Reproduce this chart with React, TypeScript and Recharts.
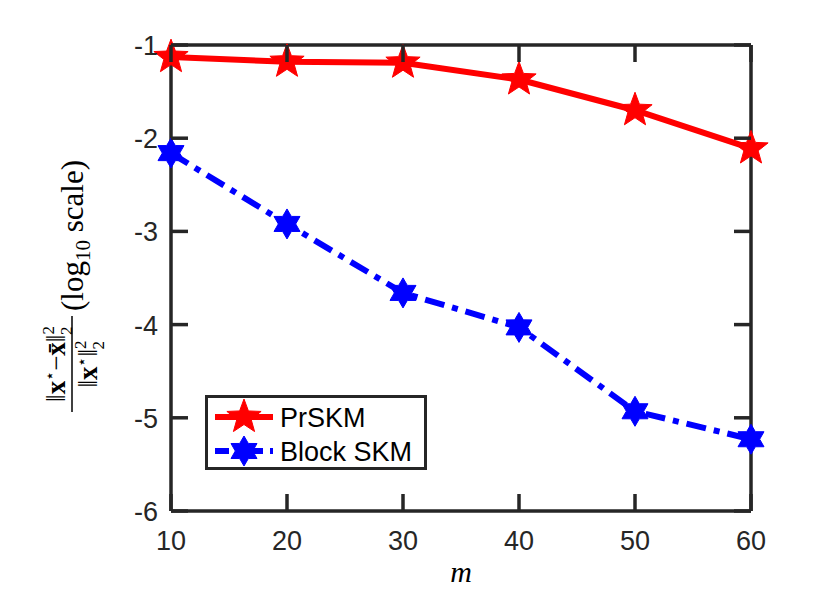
import React from 'react'
import { LineChart, Line, XAxis, YAxis } from 'recharts'

// values (log10 of relative error)
const mValues = [10, 20, 30, 40, 50, 60]
const prSkm = [-1.13, -1.18, -1.19, -1.37, -1.7, -2.11]
const blockSkm = [-2.16, -2.92, -3.66, -4.03, -4.93, -5.23]
const xTicks = [10, 20, 30, 40, 50, 60]
const yTicks = [-6, -5, -4, -3, -2, -1]

const data = mValues.map((m, i) => ({ m, prSkm: prSkm[i], blockSkm: blockSkm[i] }))

const W = 830
const H = 602
const LEFT = 171
const RIGHT = 751
const TOP = 45
const BOTTOM = 511
const TICK_LEN = 17
const AXIS_COLOR = '#262626'
const AXIS_W = 3.5
const SANS = '"Liberation Sans", Arial, sans-serif'
const SERIF = '"Liberation Serif", "DejaVu Serif", serif'

function starPoints(cx: number, cy: number, n: number, outer: number, inner: number) {
  const pts: string[] = []
  for (let i = 0; i < n * 2; i++) {
    const r = i % 2 === 0 ? outer : inner
    const a = -Math.PI / 2 + (i * Math.PI) / n
    pts.push(`${cx + r * Math.cos(a)},${cy + r * Math.sin(a)}`)
  }
  return pts.join(' ')
}

const Pentagram = ({ cx, cy }: { cx: number; cy: number }) => (
  <polygon points={starPoints(cx, cy, 5, 18, 7.5)} fill="#ff0000" stroke="#ff0000" strokeWidth={1} />
)

const Hexagram = ({ cx, cy }: { cx: number; cy: number }) => (
  <polygon points={starPoints(cx, cy, 6, 15, 8.7)} fill="#0000ff" stroke="#0000ff" strokeWidth={1} />
)

const BLUE_DASH = '20 8 6 8'

function BottomTick(props: any) {
  const { x, payload } = props
  return (
    <g>
      <line x1={x} x2={x} y1={BOTTOM} y2={BOTTOM - TICK_LEN} stroke={AXIS_COLOR} strokeWidth={AXIS_W} />
      <text x={x} y={550} textAnchor="middle" fontSize={27} fontFamily={SANS} fill={AXIS_COLOR}>
        {payload.value}
      </text>
    </g>
  )
}

function TopTick(props: any) {
  const { x } = props
  return <line x1={x} x2={x} y1={TOP} y2={TOP + TICK_LEN} stroke={AXIS_COLOR} strokeWidth={AXIS_W} />
}

function LeftTick(props: any) {
  const { y, payload } = props
  return (
    <g>
      <line x1={LEFT} x2={LEFT + TICK_LEN} y1={y} y2={y} stroke={AXIS_COLOR} strokeWidth={AXIS_W} />
      <text x={158} y={y + 10} textAnchor="end" fontSize={27} fontFamily={SANS} fill={AXIS_COLOR}>
        {payload.value}
      </text>
    </g>
  )
}

function RightTick(props: any) {
  const { y } = props
  return <line x1={RIGHT - TICK_LEN} x2={RIGHT} y1={y} y2={y} stroke={AXIS_COLOR} strokeWidth={AXIS_W} />
}

function LegendBox() {
  return (
    <div
      style={{
        position: 'absolute',
        left: 205,
        top: 395,
        width: 216,
        height: 69,
        border: `3px solid ${AXIS_COLOR}`,
        background: '#fff',
      }}
    >
      <svg width={216} height={69} style={{ display: 'block' }}>
        <line x1={7} x2={65} y1={19} y2={19} stroke="#ff0000" strokeWidth={6} />
        <Pentagram cx={36} cy={19} />
        <text x={72} y={29} fontSize={27} fontFamily={SANS} fill="#000">PrSKM</text>
        <line x1={7} x2={65} y1={53} y2={53} stroke="#0000ff" strokeWidth={6} strokeDasharray="14 7 6 7" />
        <Hexagram cx={36} cy={53} />
        <text x={72} y={63} fontSize={27} fontFamily={SANS} fill="#000">Block SKM</text>
      </svg>
    </div>
  )
}

function YLabel() {
  return (
    <g transform="translate(72,278) rotate(-90)" fontFamily={SERIF} fill="#000">
      <text x={-86} y={-7} textAnchor="middle" fontSize={27}>
        <tspan>‖</tspan>
        <tspan fontWeight="bold">x</tspan>
        <tspan dy={-10} fontSize={16}>⋆</tspan>
        <tspan dy={10}>−</tspan>
        <tspan fontWeight="bold">x̄</tspan>
        <tspan>‖</tspan>
        <tspan dy={-11} fontSize={17}>2</tspan>
        <tspan dx={-9} dy={18} fontSize={17}>2</tspan>
      </text>
      <line x1={-134} x2={-38} y1={0} y2={0} stroke="#000" strokeWidth={1.5} />
      <text x={-86} y={25} textAnchor="middle" fontSize={27}>
        <tspan>‖</tspan>
        <tspan fontWeight="bold">x</tspan>
        <tspan dy={-10} fontSize={16}>⋆</tspan>
        <tspan dy={10}>‖</tspan>
        <tspan dy={-11} fontSize={17}>2</tspan>
        <tspan dx={-9} dy={18} fontSize={17}>2</tspan>
      </text>
      <text x={-33} y={11} fontSize={31}>
        <tspan>(log</tspan>
        <tspan dy={7} fontSize={21}>10</tspan>
        <tspan dy={-7}> scale)</tspan>
      </text>
    </g>
  )
}

export default function App() {
  return (
    <div style={{ position: 'absolute', left: 0, top: 0, width: W, height: H, background: '#fff' }}>
      <LineChart width={W} height={H} data={data} margin={{ top: TOP - 1, right: W - RIGHT - 1, bottom: 0, left: 0 }}>
        <XAxis
          dataKey="m"
          type="number"
          domain={[10, 60]}
          ticks={xTicks}
          height={H - BOTTOM}
          axisLine={{ stroke: AXIS_COLOR, strokeWidth: AXIS_W }}
          tickLine={false}
          tick={BottomTick}
          interval={0}
        />
        <XAxis
          xAxisId="top"
          orientation="top"
          dataKey="m"
          type="number"
          domain={[10, 60]}
          ticks={xTicks}
          height={1}
          axisLine={{ stroke: AXIS_COLOR, strokeWidth: AXIS_W }}
          tickLine={false}
          tick={TopTick}
          interval={0}
        />
        <YAxis
          type="number"
          domain={[-6, -1]}
          ticks={yTicks}
          width={LEFT}
          axisLine={{ stroke: AXIS_COLOR, strokeWidth: AXIS_W }}
          tickLine={false}
          tick={LeftTick}
          interval={0}
          label={<YLabel />}
        />
        <YAxis
          yAxisId="right"
          orientation="right"
          type="number"
          domain={[-6, -1]}
          ticks={yTicks}
          width={1}
          axisLine={{ stroke: AXIS_COLOR, strokeWidth: AXIS_W }}
          tickLine={false}
          tick={RightTick}
          interval={0}
        />
        {/* invisible series so the frame axes (top / right) get drawn */}
        <Line
          xAxisId="top"
          yAxisId="right"
          dataKey="prSkm"
          stroke="none"
          dot={false}
          activeDot={false}
          legendType="none"
          isAnimationActive={false}
        />
        <Line
          dataKey="prSkm"
          name="PrSKM"
          stroke="#ff0000"
          strokeWidth={6}
          isAnimationActive={false}
          dot={(p: any) => <Pentagram key={`p${p.index}`} cx={p.cx} cy={p.cy} />}
          activeDot={false}
        />
        <Line
          dataKey="blockSkm"
          name="Block SKM"
          stroke="#0000ff"
          strokeWidth={6}
          strokeDasharray={BLUE_DASH}
          isAnimationActive={false}
          dot={(p: any) => <Hexagram key={`b${p.index}`} cx={p.cx} cy={p.cy} />}
          activeDot={false}
        />
        <text x={461} y={582} textAnchor="middle" fontSize={30} fontStyle="italic" fontFamily={SERIF}>
          m
        </text>
      </LineChart>
      <LegendBox />
    </div>
  )
}
